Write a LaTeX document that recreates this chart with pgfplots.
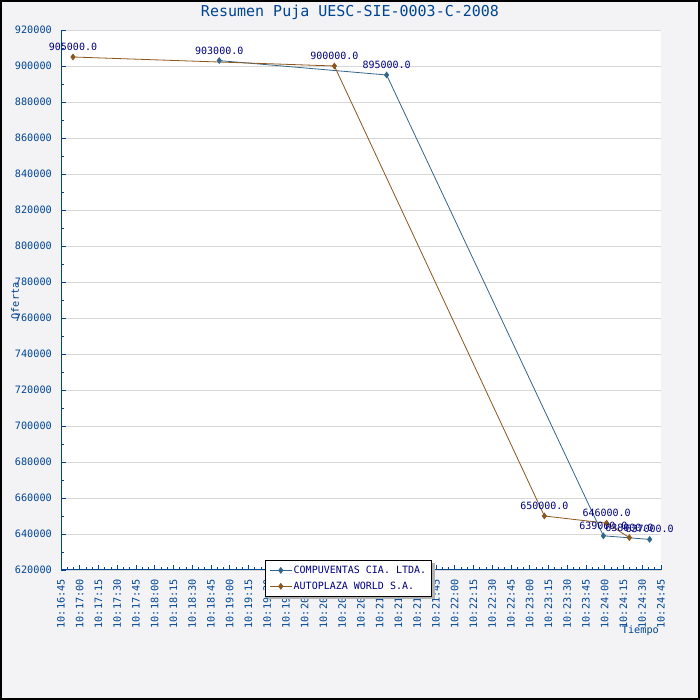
\documentclass[border=0pt]{standalone}
\usepackage{pgfplots}
\pgfplotsset{compat=1.18}
\usepackage{fontspec}
\setmainfont{DejaVu Sans Mono}
\usetikzlibrary{shadows}
\definecolor{bgc}{RGB}{243,243,246}
\definecolor{axc}{RGB}{0,68,148}
\definecolor{navyc}{RGB}{0,0,128}
\definecolor{bluel}{RGB}{51,102,136}
\definecolor{brownl}{RGB}{139,87,30}
\definecolor{gridc}{RGB}{216,216,216}
\begin{document}
\begin{tikzpicture}[x=1pt,y=1pt]
\fill[bgc] (-61,-130) rectangle (639,570);
\useasboundingbox (-61,-130) rectangle (639,570);
\begin{axis}[
  at={(0,0)}, anchor=south west,
  scale only axis, width=600pt, height=540pt,
  xmin=0, xmax=480, ymin=620000, ymax=920000,
  clip=false,
  axis background/.style={fill=white},
  axis x line*=bottom, axis y line*=left,
  axis line style={axc, line width=1pt, -},
  xtick={0,15,...,480},
  xticklabels={10:16:45,10:17:00,10:17:15,10:17:30,10:17:45,10:18:00,10:18:15,10:18:30,10:18:45,10:19:00,10:19:15,10:19:30,10:19:45,10:20:00,10:20:15,10:20:30,10:20:45,10:21:00,10:21:15,10:21:30,10:21:45,10:22:00,10:22:15,10:22:30,10:22:45,10:23:00,10:23:15,10:23:30,10:23:45,10:24:00,10:24:15,10:24:30,10:24:45},
  minor x tick num=2,
  ytick={620000,640000,...,920000},
  minor y tick num=1,
  scaled y ticks=false,
  tick align=inside,
  major tick length=5pt, minor tick length=3pt,
  tick style={axc, line width=0.8pt},
  ymajorgrids,
  major grid style={gridc, line width=0.8pt},
  /pgf/number format/assume math mode=true,
  /pgf/number format/fixed,
  /pgf/number format/1000 sep={},
  tick label style={font=\fontsize{10.2}{12}\selectfont, text=axc, inner sep=0pt},
  x tick label style={rotate=90, anchor=east},
  xticklabel shift=9pt,
  yticklabel shift=9pt,
  point meta=explicit symbolic,
  nodes near coords,
  every node near coord/.append style={font=\fontsize{10}{11}\selectfont, text=navyc, anchor=south, inner sep=0pt, yshift=6pt},
  legend image code/.code={\draw[mark repeat=2,mark phase=2,#1] plot coordinates {(0pt,0pt)(11pt,0pt)(22pt,0pt)};},
  legend style={at={(axis description cs:0.34,0.0185)}, anchor=north west,
    draw=black, line width=0.8pt, fill=white, text=navyc,
    font=\fontsize{10}{12}\selectfont,
    drop shadow={shadow xshift=3pt, shadow yshift=-3pt, fill=gray!60, opacity=1, draw=none},
    inner xsep=4pt, inner ysep=4pt, row sep=4pt,
    nodes={inner sep=1.5pt}},
  legend cell align=left,
]
\addplot[bluel, line width=0.8pt, mark=diamond*, mark size=2.8pt, mark options={fill=bluel, draw=bluel}]
  coordinates {(126.6,903000)[903000.0] (260.5,895000)[895000.0] (433.9,639000)[639000.0] (470.9,637000)[637000.0]};
\addlegendentry{COMPUVENTAS CIA. LTDA.}
\addplot[brownl, line width=0.8pt, mark=diamond*, mark size=2.8pt, mark options={fill=brownl, draw=brownl}]
  coordinates {(9.6,905000)[905000.0] (218.7,900000)[900000.0] (386.7,650000)[650000.0] (436.5,646000)[646000.0] (454.7,638000)[638000.0]};
\addlegendentry{AUTOPLAZA WORLD S.A.}
\end{axis}
\node[font=\fontsize{15}{17}\selectfont, text=axc] at (289,558) {Resumen Puja UESC-SIE-0003-C-2008};
\node[font=\fontsize{10.2}{12}\selectfont, text=axc, rotate=90] at (-46,269) {Oferta};
\node[font=\fontsize{10.2}{12}\selectfont, text=axc, anchor=east, inner sep=0pt] at (598,-61) {Tiempo};
\draw[black, line width=2pt] (-60,-129) rectangle (638,569);
\end{tikzpicture}
\end{document}
